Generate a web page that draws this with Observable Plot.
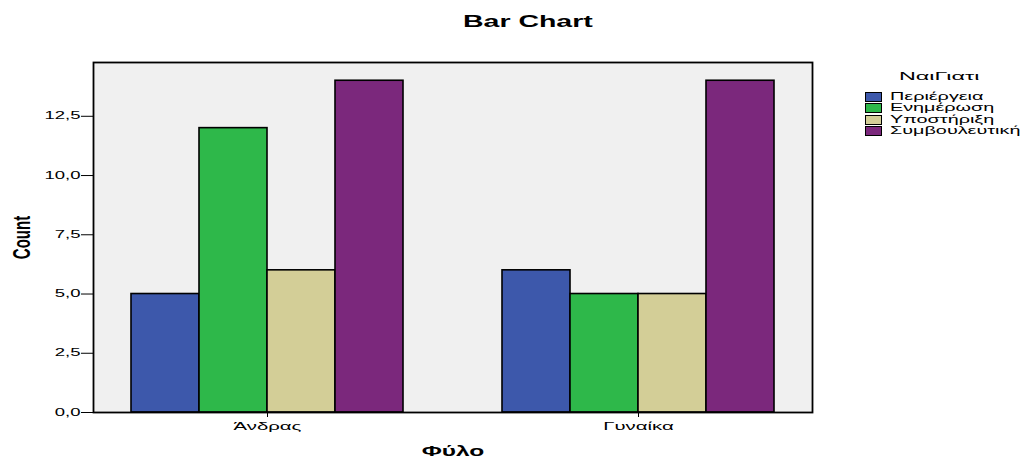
<!DOCTYPE html>
<html><head><meta charset="utf-8">
<script src="https://cdn.jsdelivr.net/npm/d3@7"></script>
<script src="https://cdn.jsdelivr.net/npm/@observablehq/plot@0.6"></script>
<style>
body{margin:0;background:#fff;font-family:"Liberation Sans",Arial,sans-serif;color:#000;}
#wrap{position:relative;width:1021px;height:457px;overflow:hidden;}
#title{position:absolute;left:463px;top:13px;font-weight:bold;font-size:16px;line-height:18px;transform:scaleX(1.78);transform-origin:left center;white-space:nowrap;}
#chart{position:absolute;left:0;top:40px;}
#legend{position:absolute;left:865px;top:70px;font-size:11px;}
#legend .lt{position:absolute;left:34px;top:0;line-height:13px;white-space:nowrap;transform:scaleX(2.12);transform-origin:left center;}
#legend .row{position:absolute;left:0;height:11px;}
#legend .sw{position:absolute;left:0;top:1px;width:15px;height:8px;border:1px solid #000;}
#legend .lb{position:absolute;left:25px;top:-1px;line-height:12px;white-space:nowrap;transform:scaleX(1.8);transform-origin:left center;}
</style></head><body>
<div id="wrap">
  <div id="title">Bar Chart</div>
  <div id="chart"></div>
  <div id="legend"></div>
</div>
<script>
const groups = ["Άνδρας", "Γυναίκα"];
const series = ["Περιέργεια", "Ενημέρωση", "Υποστήριξη", "Συμβουλευτική"];
const andrasCounts = [5, 12, 6, 14];
const gynaikaCounts = [6, 5, 5, 14];
const colors = ["#3D58AB", "#2EB84A", "#D3CE97", "#7B287C"];
const yTicks = [0, 2.5, 5, 7.5, 10, 12.5];
const legendTitle = "ΝαιΓιατι";
const xLabel = "Φύλο";
const yLabel = "Count";

const groupCounts = [andrasCounts, gynaikaCounts];
const table = groups.flatMap((g, gi) => series.map((s, si) => ({group: g, series: s, count: groupCounts[gi][si]})));

const fmt = d => d3.format(".1f")(d).replace(".", ",");

const svg = Plot.plot({
  width: 860, height: 417,
  marginTop: 22, marginBottom: 45, marginLeft: 93, marginRight: 48,
  style: {fontFamily: '"Liberation Sans", Arial, sans-serif', fontSize: "10px", color: "#000", background: "transparent", overflow: "visible"},
  facet: {data: table, x: "group"},
  fx: {domain: groups, paddingInner: 0.062, paddingOuter: 0, label: xLabel, labelArrow: false, labelAnchor: "center", labelOffset: 43, tickSize: 5, tickPadding: 5, axis: "bottom"},
  x: {domain: series, axis: null, paddingInner: 0, paddingOuter: 0.531},
  y: {domain: [0, 14.77], ticks: yTicks, tickFormat: fmt, tickSize: 12, tickPadding: 1, label: yLabel, labelArrow: false, labelAnchor: "center", labelOffset: 81},
  color: {domain: series, range: colors},
  marks: [
    Plot.frame({facet: "super", fill: "#F0F0F0"}),
    Plot.barY(table, {x: "series", y: "count", fill: "series", stroke: "#000", strokeWidth: 1.6}),
    Plot.frame({facet: "super", stroke: "#000", strokeWidth: 1.8})
  ]
});
document.getElementById("chart").appendChild(svg);

// stretch text horizontally to match the reference's wide lettering
svg.querySelectorAll("text").forEach(t => {
  const txt = t.textContent;
  const tr = t.getAttribute("transform") || "";
  if (txt === yLabel) {
    t.style.fontWeight = "bold"; t.style.fontSize = "15px";
    t.setAttribute("transform", tr + " scale(1,1.6)");
    return;
  }
  let s = 1.85;
  if (txt === xLabel) {
    t.style.fontWeight = "bold"; t.style.fontSize = "14px"; s = 1.75;
  } else if (groups.includes(txt)) {
    t.style.fontSize = "11px";
  }
  const x = +(t.getAttribute("x") || 0);
  t.setAttribute("transform", tr + ` translate(${x},0) scale(${s},1) translate(${-x},0)`);
});

// legend
const lg = document.getElementById("legend");
const lt = document.createElement("div"); lt.className = "lt"; lt.textContent = legendTitle; lg.appendChild(lt);
series.forEach((s, i) => {
  const row = document.createElement("div"); row.className = "row"; row.style.top = (21 + i * 11.4) + "px";
  const sw = document.createElement("div"); sw.className = "sw"; sw.style.background = colors[i];
  const lb = document.createElement("div"); lb.className = "lb"; lb.textContent = s;
  row.appendChild(sw); row.appendChild(lb); lg.appendChild(row);
});
</script>
</body></html>
